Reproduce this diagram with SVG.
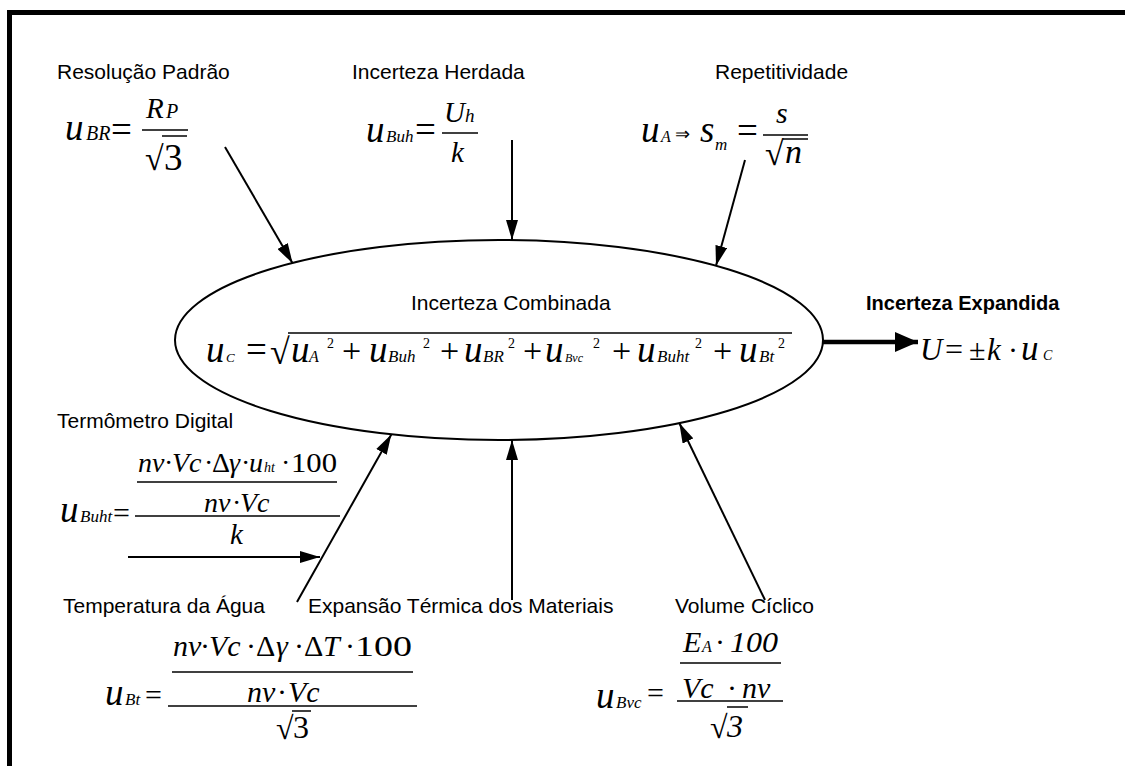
<svg xmlns="http://www.w3.org/2000/svg" width="1125" height="766" viewBox="0 0 1125 766">
<style>
.lbl{font-family:"Liberation Sans",Arial,sans-serif;font-size:21px;fill:#000}
.bold{font-weight:bold;font-size:20px}
.m{font-family:"Liberation Serif","Times New Roman",serif;font-style:italic;fill:#000}
.r{font-family:"Liberation Serif","Times New Roman",serif;font-style:normal;fill:#000}
.big{font-size:37px}
.fr{stroke:#000;stroke-width:1.5;fill:none}
.conn{stroke:#000;stroke-width:2;fill:none}
</style>
<defs>
<marker id="ah" markerUnits="userSpaceOnUse" markerWidth="22" markerHeight="12" refX="20" refY="6" orient="auto"><path d="M0,0 L20,6 L0,12 z" fill="#000"/></marker>
<marker id="ahb" markerUnits="userSpaceOnUse" markerWidth="24" markerHeight="20" refX="23" refY="10" orient="auto"><path d="M0,0 L23,10 L0,20 z" fill="#000"/></marker>
</defs>
<rect x="0" y="0" width="1125" height="766" fill="#fff"/>
<rect x="9.5" y="12.5" width="1200" height="800" fill="none" stroke="#000" stroke-width="5"/>

<g id="connectors">
<line class="conn" x1="225" y1="147" x2="292.6" y2="263.3" marker-end="url(#ah)"/>
<line class="conn" x1="512" y1="140" x2="512" y2="240" marker-end="url(#ah)"/>
<line class="conn" x1="745" y1="160" x2="716" y2="265.8" marker-end="url(#ah)"/>
<line x1="823" y1="342" x2="918" y2="342" stroke="#000" stroke-width="4.5" marker-end="url(#ahb)"/>
<line class="conn" x1="297" y1="602" x2="391.3" y2="434.4" marker-end="url(#ah)"/>
<line class="conn" x1="128" y1="557" x2="320" y2="557" marker-end="url(#ah)"/>
<line class="conn" x1="512" y1="600" x2="512" y2="440" marker-end="url(#ah)"/>
<line class="conn" x1="765" y1="600" x2="679.3" y2="423" marker-end="url(#ah)"/>
</g>

<g id="resolucao">
<text class="lbl" x="57" y="79">Resolução Padrão</text>
<text class="m" y="140"><tspan x="65" font-size="37">u</tspan><tspan x="86" font-size="20">BR</tspan><tspan class="r" x="111" y="142" font-size="37">=</tspan></text>
<text class="m" y="118"><tspan x="146" font-size="29">R</tspan><tspan x="166" font-size="20">P</tspan></text>
<line class="fr" x1="142" y1="130" x2="188" y2="130"/>
<text class="r" y="170"><tspan x="145" font-size="34">√</tspan><tspan x="164" font-size="37">3</tspan></text>
<line class="fr" x1="162" y1="136" x2="187" y2="136"/>
</g>

<g id="herdada">
<text class="lbl" x="352" y="79">Incerteza Herdada</text>
<text class="m" y="142"><tspan x="366" font-size="37">u</tspan><tspan x="386" font-size="17">Buh</tspan><tspan class="r" x="415" font-size="37">=</tspan></text>
<text class="m" y="122"><tspan x="444" font-size="29">U</tspan><tspan x="465" font-size="19">h</tspan></text>
<line class="fr" x1="442" y1="133" x2="478" y2="133"/>
<text class="m" font-size="29" x="451" y="162">k</text>
</g>

<g id="repetitividade">
<text class="lbl" x="715" y="79">Repetitividade</text>
<text class="m" y="142"><tspan x="641" font-size="37">u</tspan><tspan x="661" font-size="16">A</tspan><tspan class="r" x="675" y="140" font-size="18">⇒</tspan><tspan x="700" y="142" font-size="37">s</tspan><tspan x="715" y="150" font-size="17">m</tspan><tspan class="r" x="737" y="143" font-size="37">=</tspan></text>
<text class="m" font-size="30" x="776" y="123">s</text>
<line class="fr" x1="763" y1="135" x2="808" y2="135"/>
<text y="165"><tspan class="r" x="765" font-size="34">√</tspan><tspan class="m" x="785" y="163" font-size="34">n</tspan></text>
<line class="fr" x1="783" y1="139" x2="808" y2="139"/>
</g>

<g id="combinada">
<ellipse cx="499" cy="340" rx="324" ry="100" fill="none" stroke="#000" stroke-width="2"/>
<text class="lbl" x="411" y="310">Incerteza Combinada</text>
<text class="m" y="362"><tspan x="206" font-size="37">u</tspan><tspan x="226" font-size="13">C</tspan><tspan class="r" x="246" font-size="37">=</tspan><tspan class="r" x="270" y="364" font-size="36">√</tspan><tspan x="291" y="362" font-size="37">u</tspan><tspan x="309" font-size="16">A</tspan><tspan class="r" x="327" y="348" font-size="14">2</tspan><tspan class="r" x="342" y="362" font-size="34">+</tspan><tspan x="369" font-size="37">u</tspan><tspan x="388" font-size="17">Buh</tspan><tspan class="r" x="423" y="348" font-size="14">2</tspan><tspan class="r" x="440" y="362" font-size="34">+</tspan><tspan x="464" font-size="37">u</tspan><tspan x="483" font-size="17">BR</tspan><tspan class="r" x="508" y="348" font-size="14">2</tspan><tspan class="r" x="523" y="362" font-size="34">+</tspan><tspan x="545" font-size="37">u</tspan><tspan x="565" font-size="12">Bvc</tspan><tspan class="r" x="593" y="348" font-size="14">2</tspan><tspan class="r" x="612" y="362" font-size="34">+</tspan><tspan x="637" font-size="37">u</tspan><tspan x="657" font-size="17">Buht</tspan><tspan class="r" x="695" y="348" font-size="14">2</tspan><tspan class="r" x="713" y="362" font-size="34">+</tspan><tspan x="739" font-size="37">u</tspan><tspan x="759" font-size="17">Bt</tspan><tspan class="r" x="778" y="348" font-size="14">2</tspan></text>
<line class="fr" x1="288" y1="333" x2="792" y2="333"/>
</g>

<g id="expandida">
<text class="lbl bold" x="866" y="310">Incerteza Expandida</text>
<text class="m" y="360"><tspan x="920" font-size="31">U</tspan><tspan class="r" x="945" font-size="32">=</tspan><tspan class="r" x="969" font-size="30">±</tspan><tspan x="987" font-size="31">k</tspan><tspan class="r" x="1008" font-size="30">·</tspan><tspan x="1021" font-size="35">u</tspan><tspan x="1043" font-size="14">C</tspan></text>
</g>

<g id="termometro">
<text class="lbl" x="57" y="428">Termômetro Digital</text>
<text class="m" font-size="28" y="472"><tspan x="138">nv</tspan><tspan class="r" x="164">·</tspan><tspan x="172">Vc</tspan><tspan class="r" x="204">·</tspan><tspan class="r" x="212">Δ</tspan><tspan x="229">γ</tspan><tspan class="r" x="241">·</tspan><tspan x="249">u</tspan><tspan x="264" font-size="14">ht</tspan><tspan class="r" x="281">·</tspan><tspan class="r" x="291" textLength="46" lengthAdjust="spacingAndGlyphs">100</tspan></text>
<line class="fr" x1="137" y1="482" x2="337" y2="482"/>
<text class="m" font-size="28" y="512"><tspan x="204">nv</tspan><tspan class="r" x="232">·</tspan><tspan x="240">Vc</tspan></text>
<line class="fr" x1="135" y1="516" x2="340" y2="516"/>
<text class="m" font-size="29" x="230" y="544">k</text>
<text class="m" y="522"><tspan x="60" font-size="37">u</tspan><tspan x="80" font-size="17">Buht</tspan><tspan class="r" x="113" y="523" font-size="30">=</tspan></text>
</g>

<g id="temperatura">
<text class="lbl" x="63" y="613">Temperatura da Água</text>
<text class="m" font-size="30" y="656"><tspan x="173">nv</tspan><tspan class="r" x="200">·</tspan><tspan x="209">Vc</tspan><tspan class="r" x="246">·</tspan><tspan class="r" x="256">Δ</tspan><tspan x="276">γ</tspan><tspan class="r" x="294">·</tspan><tspan class="r" x="304">Δ</tspan><tspan x="323">T</tspan><tspan class="r" x="345">·</tspan><tspan class="r" x="355" textLength="57" lengthAdjust="spacingAndGlyphs">100</tspan></text>
<line class="fr" x1="172" y1="672" x2="413" y2="672"/>
<text class="m" font-size="30" y="702"><tspan x="247">nv</tspan><tspan class="r" x="277">·</tspan><tspan x="288">Vc</tspan></text>
<line class="fr" x1="168" y1="706" x2="417" y2="706"/>
<text class="r" font-size="32" y="739"><tspan x="276">√</tspan><tspan x="293" y="738">3</tspan></text>
<line class="fr" x1="292" y1="711" x2="311" y2="711"/>
<text class="m" y="705"><tspan x="105" font-size="37">u</tspan><tspan x="125" font-size="17">Bt</tspan><tspan class="r" x="145" font-size="30">=</tspan></text>
</g>

<g id="expansao">
<text class="lbl" x="308" y="613">Expansão Térmica dos Materiais</text>
</g>

<g id="volume">
<text class="lbl" x="675" y="613">Volume Cíclico</text>
<text class="m" font-size="30" y="652"><tspan x="683">E</tspan><tspan x="702" font-size="16">A</tspan><tspan class="r" x="715">·</tspan><tspan x="730" textLength="48" lengthAdjust="spacingAndGlyphs">100</tspan></text>
<line class="fr" x1="680" y1="663" x2="781" y2="663"/>
<text class="m" font-size="30" y="698"><tspan x="682">Vc</tspan><tspan class="r" x="727">·</tspan><tspan x="742">nv</tspan></text>
<line class="fr" x1="677" y1="701" x2="783" y2="701"/>
<text font-size="32" y="738"><tspan class="r" x="710">√</tspan><tspan class="m" x="727" y="737">3</tspan></text>
<line class="fr" x1="727" y1="707" x2="748" y2="707"/>
<text class="m" y="708"><tspan x="596" font-size="37">u</tspan><tspan x="616" font-size="17">Bvc</tspan><tspan class="r" x="647" y="703" font-size="30">=</tspan></text>
</g>
</svg>
